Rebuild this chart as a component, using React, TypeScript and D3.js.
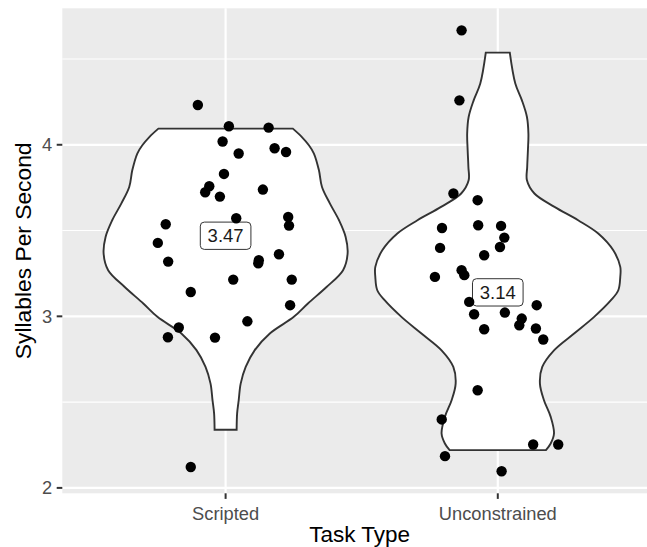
import React, { useRef, useEffect } from 'react';
import * as d3 from 'd3';

const categories = ['Scripted', 'Unconstrained'];

// violin outlines: value, relative half-width
const scriptedViolin: [number, number][] = [
    [4.094, 0.549], [4.045, 0.623], [3.997, 0.680], [3.949, 0.721], [3.851, 0.762],
    [3.754, 0.787], [3.657, 0.852], [3.560, 0.926], [3.463, 0.980], [3.366, 0.996],
    [3.269, 0.959], [3.171, 0.824], [3.075, 0.672], [2.997, 0.557], [2.900, 0.361],
    [2.803, 0.238], [2.705, 0.164], [2.608, 0.123], [2.512, 0.107], [2.434, 0.094],
    [2.339, 0.090],
];
const unconstrainedViolin: [number, number][] = [
    [4.537, 0.098], [4.357, 0.143], [4.259, 0.197], [4.162, 0.238], [4.065, 0.250],
    [3.968, 0.246], [3.871, 0.240], [3.793, 0.238], [3.716, 0.299], [3.638, 0.463],
    [3.560, 0.656], [3.483, 0.820], [3.385, 0.943], [3.288, 1.0], [3.230, 1.0],
    [3.152, 0.984], [3.094, 0.924], [2.997, 0.787], [2.900, 0.623], [2.802, 0.459],
    [2.705, 0.363], [2.608, 0.344], [2.511, 0.377], [2.414, 0.432], [2.317, 0.459],
    [2.259, 0.432], [2.220, 0.393],
];

// jittered points: horizontal offset (in category steps), syllables per second
const scriptedPoints: [number, number][] = [
    [-0.102, 4.232], [0.012, 4.108], [0.158, 4.100], [-0.011, 4.019], [0.048, 3.949],
    [0.180, 3.980], [0.222, 3.958], [-0.006, 3.830], [-0.060, 3.758], [-0.075, 3.723],
    [-0.021, 3.698], [0.137, 3.739], [0.039, 3.572], [0.230, 3.579], [0.233, 3.529],
    [-0.220, 3.537], [-0.249, 3.428], [-0.211, 3.319], [0.122, 3.327], [0.120, 3.309],
    [0.196, 3.362], [0.028, 3.214], [0.243, 3.214], [-0.128, 3.142], [0.237, 3.065],
    [0.080, 2.971], [-0.172, 2.935], [-0.212, 2.878], [-0.039, 2.876], [-0.128, 2.122],
];
const unconstrainedPoints: [number, number][] = [
    [-0.133, 4.667], [-0.141, 4.259], [-0.163, 3.716], [-0.074, 3.677], [-0.205, 3.515],
    [-0.072, 3.531], [0.012, 3.527], [0.024, 3.459], [-0.212, 3.399], [0.008, 3.404],
    [-0.050, 3.356], [-0.133, 3.269], [-0.123, 3.240], [-0.231, 3.230], [-0.105, 3.084],
    [-0.087, 3.012], [0.026, 3.022], [0.088, 2.987], [0.079, 2.948], [0.143, 3.065],
    [0.140, 2.929], [0.167, 2.865], [-0.050, 2.925], [-0.074, 2.569], [-0.206, 2.399],
    [0.130, 2.253], [0.222, 2.253], [-0.194, 2.185], [0.014, 2.097],
];

const meanLabels = [3.47, 3.14];
const yTicks = [2, 3, 4];
const yMinor = [2.5, 3.5, 4.5];

const FONT = '"Liberation Sans", Arial, Helvetica, sans-serif';

const App: React.FC = () => {
    const svgRef = useRef<SVGSVGElement | null>(null);
    const width = 647, height = 547;
    const left = 62.3, right = 661.1, top = 8.3, bottom = 493.3;

    useEffect(() => {
        if (!svgRef.current) return;
        const svg = d3.select(svgRef.current);
        svg.selectAll('*').remove();

        const allY = [...scriptedPoints, ...unconstrainedPoints].map(d => d[1]);
        const [lo, hi] = d3.extent(allY) as [number, number];
        const pad = (hi - lo) * 0.05;

        const x = d3.scalePoint<string>().domain(categories).range([left, right]).padding(0.6);
        const y = d3.scaleLinear().domain([lo - pad, hi + pad]).range([bottom, top]);
        const step = x.step();
        const halfMax = step * 0.45;

        // panel
        svg.append('rect')
            .attr('x', left).attr('y', top)
            .attr('width', right - left).attr('height', bottom - top)
            .attr('fill', '#EBEBEB');

        svg.append('g').selectAll('line').data(yMinor).join('line')
            .attr('x1', left).attr('x2', right)
            .attr('y1', d => y(d)).attr('y2', d => y(d))
            .attr('stroke', 'white').attr('stroke-width', 1.1);

        svg.append('g').selectAll('line').data(yTicks).join('line')
            .attr('x1', left).attr('x2', right)
            .attr('y1', d => y(d)).attr('y2', d => y(d))
            .attr('stroke', 'white').attr('stroke-width', 2.2);

        svg.append('g').selectAll('line').data(categories).join('line')
            .attr('x1', d => x(d)!).attr('x2', d => x(d)!)
            .attr('y1', top).attr('y2', bottom)
            .attr('stroke', 'white').attr('stroke-width', 2.2);

        // violins
        const violins = [scriptedViolin, unconstrainedViolin];
        violins.forEach((profile, i) => {
            const cx = x(categories[i])!;
            const area = d3.area<[number, number]>()
                .y(d => y(d[0]))
                .x0(d => cx - d[1] * halfMax)
                .x1(d => cx + d[1] * halfMax)
                .curve(d3.curveCatmullRom);
            svg.append('path')
                .attr('d', area(profile))
                .attr('fill', 'white')
                .attr('stroke', '#333333')
                .attr('stroke-width', 1.9);
        });

        // mean labels
        meanLabels.forEach((v, i) => {
            const cx = x(categories[i])!;
            const cy = y(v);
            const g = svg.append('g');
            g.append('rect')
                .attr('x', cx - 25.3).attr('y', cy - 13.6)
                .attr('width', 50.6).attr('height', 27.3)
                .attr('rx', 4)
                .attr('fill', 'white')
                .attr('stroke', '#333333')
                .attr('stroke-width', 1);
            g.append('text')
                .attr('x', cx).attr('y', cy)
                .attr('dy', '0.36em')
                .attr('text-anchor', 'middle')
                .style('font-family', FONT)
                .style('font-size', '18.5px')
                .style('fill', '#1a1a1a')
                .text(v.toFixed(2));
        });

        // jittered points
        [scriptedPoints, unconstrainedPoints].forEach((pts, i) => {
            const cx = x(categories[i])!;
            svg.append('g').selectAll('circle').data(pts).join('circle')
                .attr('cx', d => cx + d[0] * step)
                .attr('cy', d => y(d[1]))
                .attr('r', 5.2)
                .attr('fill', 'black');
        });

        // y axis
        const ya = svg.append('g');
        ya.selectAll('line').data(yTicks).join('line')
            .attr('x1', left - 5.6).attr('x2', left)
            .attr('y1', d => y(d)).attr('y2', d => y(d))
            .attr('stroke', '#333333').attr('stroke-width', 2);
        ya.selectAll('text').data(yTicks).join('text')
            .attr('x', left - 10.2).attr('y', d => y(d))
            .attr('dy', '0.36em')
            .attr('text-anchor', 'end')
            .style('font-family', FONT)
            .style('font-size', '18.3px')
            .style('fill', '#4D4D4D')
            .text(d => d);

        // x axis
        const xa = svg.append('g');
        xa.selectAll('line').data(categories).join('line')
            .attr('x1', d => x(d)!).attr('x2', d => x(d)!)
            .attr('y1', bottom).attr('y2', bottom + 5.6)
            .attr('stroke', '#333333').attr('stroke-width', 2);
        xa.selectAll('text').data(categories).join('text')
            .attr('x', d => x(d)!).attr('y', 520)
            .attr('text-anchor', 'middle')
            .style('font-family', FONT)
            .style('font-size', '18.3px')
            .style('fill', '#4D4D4D')
            .text(d => d);

        // axis titles
        svg.append('text')
            .attr('x', (left + right) / 2 - 2).attr('y', 541.5)
            .attr('text-anchor', 'middle')
            .style('font-family', FONT)
            .style('font-size', '22.5px')
            .style('fill', 'black')
            .text('Task Type');

        svg.append('text')
            .attr('transform', `translate(30.5, ${(top + bottom) / 2}) rotate(-90)`)
            .attr('text-anchor', 'middle')
            .style('font-family', FONT)
            .style('font-size', '22.8px')
            .style('fill', 'black')
            .text('Syllables Per Second');
    }, []);

    return (
        <div style={{ position: 'absolute', left: 0, top: 0 }}>
            <svg ref={svgRef} width={width} height={height} style={{ display: 'block', background: 'white' }}></svg>
        </div>
    );
};

export default App;
